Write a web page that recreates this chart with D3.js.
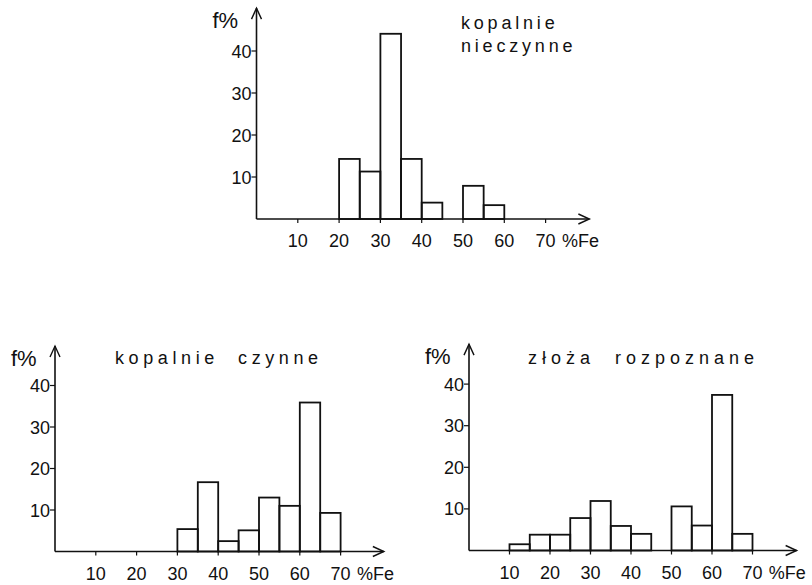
<!DOCTYPE html>
<html>
<head>
<meta charset="utf-8">
<script src="https://cdn.jsdelivr.net/npm/d3@7"></script>
<style>
  body { margin: 0; background: #fff; }
  svg { display: block; }
  text { font-family: "Liberation Sans", Arial, sans-serif; fill: #111; }
</style>
</head>
<body>
<div id="chart"></div>
<script>
// bin width is 5 %Fe; each array holds the lower edge of a bin
var binWidth = 5;

var nieczynneBins = [20, 25, 30, 35, 40, 50, 55];
var nieczynneVals = [14.3, 11.3, 44.1, 14.3, 3.9, 7.9, 3.3];

var czynneBins = [30, 35, 40, 45, 50, 55, 60, 65];
var czynneVals = [5.4, 16.7, 2.5, 5.1, 13.0, 11.0, 35.9, 9.3];

var rozpoznaneBins = [10, 15, 20, 25, 30, 35, 40, 50, 55, 60, 65];
var rozpoznaneVals = [1.5, 3.8, 3.8, 7.8, 11.9, 5.9, 4.0, 10.6, 6.0, 37.4, 4.0];

var xTicks = [10, 20, 30, 40, 50, 60, 70];
var yTicks = [10, 20, 30, 40];
var xLabel = "%Fe", yLabel = "f%";

var W = 812, H = 585;

var svg = d3.select("#chart").append("svg")
  .attr("width", W)
  .attr("height", H);

function panel(cfg, bins, vals) {
  var x = d3.scaleLinear().domain([0, 80]).range([cfg.x0, cfg.x0 + cfg.kx * 80]);
  var y = d3.scaleLinear().domain([0, 40]).range([cfg.y0, cfg.y0 - cfg.ky * 40]);
  var g = svg.append("g");

  // bars
  g.selectAll("rect")
    .data(bins.map(function(b, i) { return {b: b, v: vals[i]}; }))
    .enter().append("rect")
      .attr("x", function(d) { return x(d.b); })
      .attr("y", function(d) { return y(d.v); })
      .attr("width", function(d) { return x(d.b + binWidth) - x(d.b); })
      .attr("height", function(d) { return y(0) - y(d.v); })
      .attr("fill", "none")
      .attr("stroke", "#111")
      .attr("stroke-width", 1.8);

  // axes, drawn by hand so they look like the pen drawing
  var xEnd = x(cfg.xMax), yTop = y(cfg.yMax);
  g.append("line")
    .attr("x1", x(0)).attr("y1", y(0)).attr("x2", xEnd).attr("y2", y(0))
    .attr("stroke", "#111").attr("stroke-width", 1.6);
  g.append("path")
    .attr("d", "M" + (xEnd - 11) + "," + (y(0) - 5) + "L" + xEnd + "," + y(0) + "L" + (xEnd - 11) + "," + (y(0) + 5))
    .attr("fill", "none").attr("stroke", "#111").attr("stroke-width", 1.4);
  g.append("line")
    .attr("x1", x(0)).attr("y1", y(0)).attr("x2", x(0)).attr("y2", yTop)
    .attr("stroke", "#111").attr("stroke-width", 1.6);
  g.append("path")
    .attr("d", "M" + (x(0) - 5) + "," + (yTop + 11) + "L" + x(0) + "," + yTop + "L" + (x(0) + 5) + "," + (yTop + 11))
    .attr("fill", "none").attr("stroke", "#111").attr("stroke-width", 1.4);

  // ticks
  g.selectAll(".xt").data(xTicks).enter().append("line")
    .attr("x1", function(d) { return x(d); }).attr("x2", function(d) { return x(d); })
    .attr("y1", y(0)).attr("y2", y(0) + 4)
    .attr("stroke", "#111").attr("stroke-width", 1.2);
  g.selectAll(".xl").data(xTicks).enter().append("text")
    .attr("x", function(d) { return x(d); })
    .attr("y", y(0) + 28)
    .attr("text-anchor", "middle")
    .attr("font-size", 18)
    .text(function(d) { return d; });
  g.append("text")
    .attr("x", x(74))
    .attr("y", y(0) + 28)
    .attr("font-size", 18)
    .text(xLabel);

  g.selectAll(".yt").data(yTicks).enter().append("line")
    .attr("x1", x(0) - 5).attr("x2", x(0))
    .attr("y1", function(d) { return y(d); }).attr("y2", function(d) { return y(d); })
    .attr("stroke", "#111").attr("stroke-width", 1.2);
  g.selectAll(".yl").data(yTicks).enter().append("text")
    .attr("x", x(0) - 5)
    .attr("y", function(d) { return y(d) + 6.5; })
    .attr("text-anchor", "end")
    .attr("font-size", 18)
    .text(function(d) { return d; });
  g.append("text")
    .attr("x", x(0) - 44)
    .attr("y", yTop + 20)
    .attr("font-size", 22)
    .text(yLabel);

  // title
  var t = g.append("text")
    .attr("x", cfg.tx)
    .attr("y", cfg.ty)
    .attr("font-size", 18)
    .attr("letter-spacing", cfg.ls)
    .style("white-space", "pre");
  cfg.title.forEach(function(line, i) {
    t.append("tspan").attr("x", cfg.tx).attr("dy", i ? 23 : 0).text(line);
  });
}

panel({x0: 256.5, y0: 219, kx: 4.13, ky: 4.2, xMax: 80.6, yMax: 50.2,
       tx: 461, ty: 29, ls: 3.8, title: ["kopalnie", "nieczynne"]},
      nieczynneBins, nieczynneVals);

panel({x0: 55, y0: 551.5, kx: 4.08, ky: 4.15, xMax: 80.6, yMax: 49.5,
       tx: 115, ty: 364, ls: 4.6, title: ["kopalnie  czynne"]},
      czynneBins, czynneVals);

panel({x0: 469, y0: 550.5, kx: 4.05, ky: 4.16, xMax: 80.9, yMax: 49.6,
       tx: 528, ty: 364, ls: 5.0, title: ["złoża  rozpoznane"]},
      rozpoznaneBins, rozpoznaneVals);
</script>
</body>
</html>
